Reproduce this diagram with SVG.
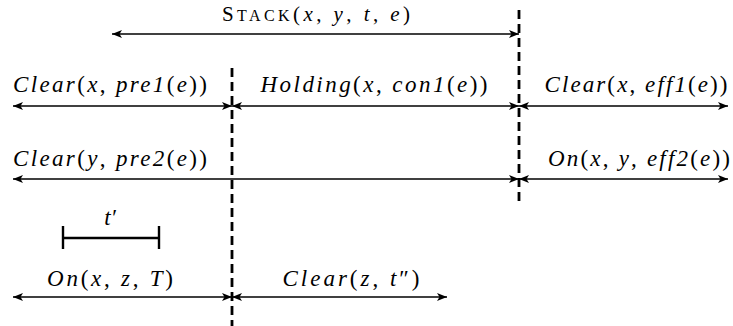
<svg xmlns="http://www.w3.org/2000/svg" width="733" height="326" viewBox="0 0 733 326">
  <style>
    .lbl { font-family: "Liberation Serif", "Times New Roman", serif; font-size: 23px; fill: #000; text-anchor: middle; }
    .top { font-size: 21px; }
    .it { font-style: italic; }
    .sc { font-size: 16px; }
    .span { stroke: #000; stroke-width: 1.6; fill: none; marker-start: url(#tipL); marker-end: url(#tipR); }
    .cut { stroke: #000; stroke-width: 2.8; stroke-dasharray: 9 5; fill: none; }
    .bar { stroke: #000; stroke-width: 2.4; fill: none; }
  </style>
  <defs>
    <marker id="tipR" viewBox="0 0 10 8" refX="10" refY="4" markerWidth="10" markerHeight="8" markerUnits="userSpaceOnUse" orient="auto">
      <path d="M0,0 L10,4 L0,8 L2.5,4 z" fill="#000"/>
    </marker>
    <marker id="tipL" viewBox="0 0 10 8" refX="0" refY="4" markerWidth="10" markerHeight="8" markerUnits="userSpaceOnUse" orient="auto">
      <path d="M10,0 L0,4 L10,8 L7.5,4 z" fill="#000"/>
    </marker>
  </defs>

  <!-- time cut lines -->
  <g id="cuts">
    <line class="cut" x1="519" y1="10" x2="519" y2="206"/>
    <line class="cut" x1="232" y1="68" x2="232" y2="326"/>
  </g>

  <!-- interval arrows -->
  <g id="connectors">
    <line class="span" x1="112" y1="34" x2="519" y2="34"/>
    <line class="span" x1="13" y1="106" x2="232" y2="106"/>
    <line class="span" x1="232" y1="106" x2="519" y2="106"/>
    <line class="span" x1="519" y1="106" x2="728" y2="106"/>
    <line class="span" x1="13" y1="179" x2="519" y2="179"/>
    <line class="span" x1="519" y1="179" x2="728" y2="179"/>
    <line class="span" x1="13" y1="297" x2="232" y2="297"/>
    <line class="span" x1="232" y1="297" x2="447" y2="297"/>
  </g>

  <g id="stack">
    <text class="lbl top" x="316" y="21" textLength="188">S<tspan class="sc">TACK</tspan>(<tspan class="it">x</tspan>, <tspan class="it">y</tspan>, <tspan class="it">t</tspan>, <tspan class="it">e</tspan>)</text>
  </g>
  <g id="clear-x-pre1">
    <text class="lbl" x="110" y="92" textLength="194"><tspan class="it">Clear</tspan>(<tspan class="it">x</tspan>, <tspan class="it">pre1</tspan>(<tspan class="it">e</tspan>))</text>
  </g>
  <g id="holding">
    <text class="lbl" x="374" y="92" textLength="227"><tspan class="it">Holding</tspan>(<tspan class="it">x</tspan>, <tspan class="it">con1</tspan>(<tspan class="it">e</tspan>))</text>
  </g>
  <g id="clear-x-eff1">
    <text class="lbl" x="636" y="92" textLength="183"><tspan class="it">Clear</tspan>(<tspan class="it">x</tspan>, <tspan class="it">eff1</tspan>(<tspan class="it">e</tspan>))</text>
  </g>
  <g id="clear-y-pre2">
    <text class="lbl" x="110" y="166" textLength="194"><tspan class="it">Clear</tspan>(<tspan class="it">y</tspan>, <tspan class="it">pre2</tspan>(<tspan class="it">e</tspan>))</text>
  </g>
  <g id="on-x-y">
    <text class="lbl" x="639" y="166" textLength="182"><tspan class="it">On</tspan>(<tspan class="it">x</tspan>, <tspan class="it">y</tspan>, <tspan class="it">eff2</tspan>(<tspan class="it">e</tspan>))</text>
  </g>
  <g id="t-prime">
    <text class="lbl it" x="110" y="225">t′</text>
    <line class="bar" x1="63" y1="238" x2="159" y2="238"/>
    <line class="bar" x1="63" y1="226" x2="63" y2="249"/>
    <line class="bar" x1="159" y1="226" x2="159" y2="249"/>
  </g>
  <g id="on-x-z">
    <text class="lbl" x="110" y="286" textLength="126"><tspan class="it">On</tspan>(<tspan class="it">x</tspan>, <tspan class="it">z</tspan>, <tspan class="it">T</tspan>)</text>
  </g>
  <g id="clear-z">
    <text class="lbl" x="351" y="286" textLength="137"><tspan class="it">Clear</tspan>(<tspan class="it">z</tspan>, <tspan class="it">t</tspan>″)</text>
  </g>
</svg>
